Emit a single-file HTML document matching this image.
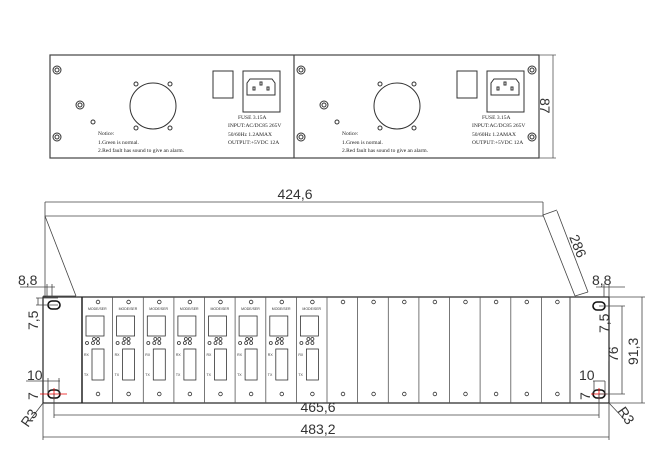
<!DOCTYPE html>
<html><head><meta charset="utf-8"><style>html,body{margin:0;padding:0;background:#fff}svg{display:block}</style></head>
<body>
<svg width="668" height="474" viewBox="0 0 668 474" xmlns="http://www.w3.org/2000/svg" font-family="Liberation Sans, sans-serif">
<defs>
<g id="half" fill="none" stroke="#333" stroke-width="1">
  <circle cx="7" cy="15" r="4"/><circle cx="7" cy="15" r="2"/>
  <circle cx="7" cy="82" r="4"/><circle cx="7" cy="82" r="2"/>
  <circle cx="30" cy="50" r="4"/><circle cx="30" cy="50" r="2"/>
  <circle cx="43" cy="67" r="2"/>
  <circle cx="103" cy="51" r="23"/>
  <circle cx="86" cy="29" r="2"/><circle cx="120" cy="29" r="2"/>
  <circle cx="86" cy="73" r="2"/><circle cx="120" cy="73" r="2"/>
  <rect x="163" y="16" width="20" height="27"/>
  <rect x="193" y="16" width="37" height="41"/>
  <path d="M200 24 L222 24 L225 28 L225 40 L197 40 L197 28 Z"/>
  <rect x="203" y="32" width="2" height="3"/><rect x="210" y="27" width="2" height="3"/><rect x="217" y="32" width="2" height="3"/>
  <g font-family="Liberation Serif, serif" font-size="5.5" fill="#222" stroke="none">
    <text x="48" y="80">Notice:</text>
    <text x="48" y="89">1.Green is normal.</text>
    <text x="48" y="97">2.Red fault has sound to give an alarm.</text>
    <text x="188" y="64">FUSE 3.15A</text>
    <text x="178" y="72">INPUT:AC/DC85 265V</text>
    <text x="178" y="81">50/60Hz  1.2AMAX</text>
    <text x="178" y="89">OUTPUT:+5VDC 12A</text>
  </g>
</g>
<g id="slotF" fill="none" stroke="#333" stroke-width="0.8">
  <circle cx="16" cy="302" r="1.8"/>
  <text x="6" y="310" font-size="3.5" fill="#333" stroke="none">MODE/SER</text>
  <rect x="4" y="316" width="18" height="20"/>
  <circle cx="12" cy="339" r="1.5"/><circle cx="16" cy="339" r="1.5"/>
  <circle cx="5" cy="343" r="1.5"/><circle cx="11" cy="343" r="1.5"/><circle cx="16" cy="343" r="1.5"/>
  <rect x="10" y="349" width="12" height="31"/>
  <text x="2" y="356" font-size="3.5" fill="#333" stroke="none">RX</text>
  <text x="2" y="376" font-size="3.5" fill="#333" stroke="none">TX</text>
  <circle cx="16" cy="394" r="1.8"/>
</g>
<g id="slotE" fill="none" stroke="#333" stroke-width="0.8">
  <circle cx="16" cy="302" r="1.8"/><circle cx="16" cy="394" r="1.8"/>
</g>
</defs>

<rect x="50" y="55" width="489" height="103" fill="none" stroke="#444" stroke-width="1.2"/>
<line x1="294" y1="55" x2="294" y2="158" stroke="#444" stroke-width="1.2"/>
<use href="#half" x="50" y="55"/>
<use href="#half" x="294" y="55"/>
<g fill="none" stroke="#333" stroke-width="1"><circle cx="532" cy="70" r="4"/><circle cx="532" cy="70" r="2"/><circle cx="532" cy="137" r="4"/><circle cx="532" cy="137" r="2"/></g>
<g stroke="#555" stroke-width="0.8"><line x1="539" y1="55" x2="556" y2="55"/><line x1="539" y1="158" x2="556" y2="158"/><line x1="553" y1="55" x2="553" y2="158"/></g>
<text x="0" y="0" font-size="14" fill="#333" transform="translate(540,98) rotate(90)">87</text>

<g stroke="#444" stroke-width="0.8" fill="none">
  <line x1="45" y1="202" x2="543" y2="202"/>
  <line x1="45" y1="216" x2="543" y2="216"/>
  <line x1="45" y1="202" x2="45" y2="297"/>
  <line x1="543" y1="202" x2="543" y2="216"/>
  <line x1="45" y1="216" x2="76" y2="296"/>
  <line x1="43" y1="296" x2="76" y2="296"/>
  <line x1="543" y1="215" x2="575" y2="296"/>
  <line x1="557" y1="211" x2="588" y2="292"/>
  <line x1="543" y1="215" x2="557" y2="210"/>
  <line x1="575" y1="296" x2="588" y2="292"/>
</g>
<text x="295" y="199" font-size="14" fill="#333" text-anchor="middle">424,6</text>
<text x="0" y="0" font-size="14" fill="#333" transform="translate(569,237) rotate(68)">286</text>

<rect x="43" y="297" width="566" height="106" fill="none" stroke="#222" stroke-width="1.2"/>
<line x1="82" y1="297" x2="82" y2="403" stroke="#222" stroke-width="1.5"/>
<line x1="570" y1="297" x2="570" y2="403" stroke="#444" stroke-width="1"/>
<g stroke="#555" stroke-width="0.8">
<line x1="112.6" y1="297" x2="112.6" y2="403"/><line x1="143.3" y1="297" x2="143.3" y2="403"/><line x1="173.9" y1="297" x2="173.9" y2="403"/><line x1="204.5" y1="297" x2="204.5" y2="403"/><line x1="235.1" y1="297" x2="235.1" y2="403"/><line x1="265.8" y1="297" x2="265.8" y2="403"/><line x1="296.4" y1="297" x2="296.4" y2="403"/><line x1="327" y1="297" x2="327" y2="403"/><line x1="357.6" y1="297" x2="357.6" y2="403"/><line x1="388.3" y1="297" x2="388.3" y2="403"/><line x1="418.9" y1="297" x2="418.9" y2="403"/><line x1="449.5" y1="297" x2="449.5" y2="403"/><line x1="480.1" y1="297" x2="480.1" y2="403"/><line x1="510.8" y1="297" x2="510.8" y2="403"/><line x1="541.4" y1="297" x2="541.4" y2="403"/>
</g>
<use href="#slotF" x="82"/><use href="#slotF" x="112.6"/><use href="#slotF" x="143.3"/><use href="#slotF" x="173.9"/><use href="#slotF" x="204.5"/><use href="#slotF" x="235.1"/><use href="#slotF" x="265.8"/><use href="#slotF" x="296.4"/>
<use href="#slotE" x="327"/><use href="#slotE" x="357.6"/><use href="#slotE" x="388.3"/><use href="#slotE" x="418.9"/><use href="#slotE" x="449.5"/><use href="#slotE" x="480.1"/><use href="#slotE" x="510.8"/><use href="#slotE" x="541.4"/>

<g fill="none" stroke="#111" stroke-width="1.6">
<rect x="48" y="301" width="12" height="8" rx="4"/><rect x="48" y="390" width="12" height="8" rx="4"/>
<rect x="593" y="302" width="12" height="8" rx="4"/><rect x="593" y="390" width="12" height="8" rx="4"/>
</g>
<g stroke="#e00" stroke-width="0.8"><line x1="40" y1="394" x2="67" y2="394"/><line x1="54" y1="388" x2="54" y2="400"/><line x1="591" y1="394" x2="607" y2="394"/><line x1="599" y1="388" x2="599" y2="400"/></g>

<g stroke="#444" stroke-width="0.8" fill="none">
  <line x1="54" y1="394" x2="54" y2="418"/><line x1="599" y1="394" x2="599" y2="418"/>
  <line x1="54" y1="415" x2="599" y2="415"/>
  <line x1="43" y1="403" x2="43" y2="440"/><line x1="609" y1="403" x2="609" y2="440"/>
  <line x1="43" y1="437" x2="609" y2="437"/>
  <line x1="20" y1="287" x2="55" y2="287"/><line x1="47" y1="284" x2="47" y2="297"/><line x1="52" y1="284" x2="52" y2="297"/>
  <line x1="36" y1="298" x2="58" y2="298"/><line x1="36" y1="305" x2="58" y2="305"/><line x1="38" y1="298" x2="38" y2="305"/>
  <line x1="26" y1="381" x2="60" y2="381"/><line x1="48" y1="378" x2="48" y2="394"/><line x1="59" y1="378" x2="59" y2="394"/>
  <line x1="43" y1="403" x2="30" y2="420"/>
  <line x1="596" y1="287" x2="625" y2="287"/><line x1="604" y1="284" x2="604" y2="297"/><line x1="609" y1="284" x2="609" y2="297"/>
  <line x1="599" y1="306" x2="625" y2="306"/><line x1="599" y1="394" x2="625" y2="394"/><line x1="622" y1="306" x2="622" y2="394"/>
  <line x1="609" y1="297" x2="645" y2="297"/><line x1="609" y1="403" x2="645" y2="403"/><line x1="642" y1="297" x2="642" y2="403"/>
  <line x1="593" y1="381" x2="605" y2="381"/><line x1="594" y1="381" x2="594" y2="394"/><line x1="605" y1="381" x2="605" y2="394"/>
  <line x1="609" y1="403" x2="625" y2="420"/>
</g>
<g font-size="14" fill="#333">
<text x="318" y="412" text-anchor="middle">465,6</text>
<text x="318" y="434" text-anchor="middle">483,2</text>
<text x="18" y="285">8,8</text>
<text x="27" y="380">10</text>
<text x="579" y="380">10</text>
<text x="592" y="285">8,8</text>
<text transform="translate(38,330) rotate(-90)">7,5</text>
<text transform="translate(38,400) rotate(-90)">7</text>
<text transform="translate(590,400) rotate(-90)">7</text>
<text transform="translate(609,333) rotate(-90)">7,5</text>
<text transform="translate(618,362) rotate(-90)">76</text>
<text transform="translate(638,365) rotate(-90)">91,3</text>
<text transform="translate(28,428) rotate(-55)">R3</text>
<text transform="translate(617,411) rotate(55)">R3</text>
</g>
</svg>
</body></html>
